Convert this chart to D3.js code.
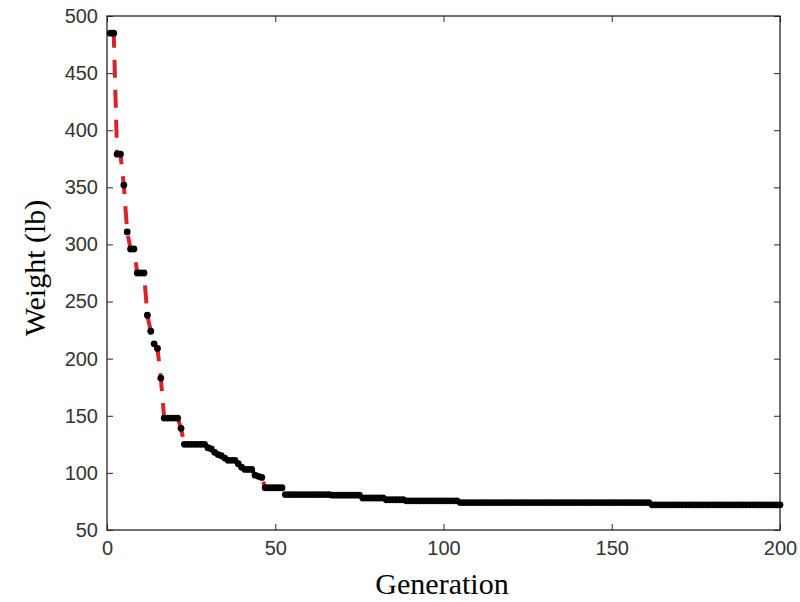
<!doctype html>
<html>
<head>
<meta charset="utf-8">
<script src="https://d3js.org/d3.v7.min.js"></script>
<style>
  body { margin: 0; background: #fff; }
  .tick text { font-family: "Liberation Sans", Arial, sans-serif; font-size: 20px; fill: #333; }
  .tick line { stroke: #262626; }
  .domain { stroke: none; }
  .title { font-family: "Liberation Serif", "Times New Roman", serif; font-size: 30px; fill: #000; }
</style>
</head>
<body>
<svg width="800" height="602"></svg>
<script>
// best weight per generation (lb)
var weights = [
  485, 485, 379, 379, 352, 311, 296, 296, 275, 275,
  275, 238, 224, 213, 209, 183, 148, 148, 148, 148,
  148, 139, 125, 125, 125, 125, 125, 125, 125, 122,
  121, 118, 116, 115, 113, 111, 111, 111, 108, 105,
  103, 103, 103, 98, 97, 96, 87, 87, 87, 87,
  87, 87, 81, 81, 81, 81, 81, 81, 81, 81,
  81, 81, 81, 81, 81, 81, 80.5, 80.5, 80.5, 80.5,
  80.5, 80.5, 80.5, 80.5, 80.5, 78, 78, 78, 78, 78,
  78, 78, 76.5, 76.5, 76.5, 76.5, 76.5, 76.5, 75.5, 75.5,
  75.5, 75.5, 75.5, 75.5, 75.5, 75.5, 75.5, 75.5, 75.5, 75.5,
  75.5, 75.5, 75.5, 75.5, 74, 74, 74, 74, 74, 74,
  74, 74, 74, 74, 74, 74, 74, 74, 74, 74,
  74, 74, 74, 74, 74, 74, 74, 74, 74, 74,
  74, 74, 74, 74, 74, 74, 74, 74, 74, 74,
  74, 74, 74, 74, 74, 74, 74, 74, 74, 74,
  74, 74, 74, 74, 74, 74, 74, 74, 74, 74,
  74, 72, 72, 72, 72, 72, 72, 72, 72, 72,
  72, 72, 72, 72, 72, 72, 72, 72, 72, 72,
  72, 72, 72, 72, 72, 72, 72, 72, 72, 72,
  72, 72, 72, 72, 72, 72, 72, 72, 72, 72
];
var xTicks = [0, 50, 100, 150, 200];
var yTicks = [50, 100, 150, 200, 250, 300, 350, 400, 450, 500];

var data = weights.map(function(w, i) { return {gen: i + 1, w: w}; });

var margin = {left: 107, top: 16, right: 20, bottom: 72};
var W = 800 - margin.left - margin.right;
var H = 602 - margin.top - margin.bottom;

var svg = d3.select('svg');
var g = svg.append('g').attr('transform', 'translate(' + margin.left + ',' + margin.top + ')');

var x = d3.scaleLinear().domain([0, 200]).range([0, W]);
var y = d3.scaleLinear().domain([50, 500]).range([H, 0]);

// axes, ticks pointing inward like matlab
g.append('g').attr('transform', 'translate(0,' + H + ')')
  .call(d3.axisBottom(x).tickValues(xTicks).tickSize(-6).tickPadding(11));
g.append('g')
  .call(d3.axisLeft(y).tickValues(yTicks).tickSize(-6).tickPadding(9));
g.append('g')
  .call(d3.axisTop(x).tickValues(xTicks).tickSize(-6).tickFormat(''));
g.append('g').attr('transform', 'translate(' + W + ',0)')
  .call(d3.axisRight(y).tickValues(yTicks).tickSize(-6).tickFormat(''));

g.append('rect')
  .attr('width', W).attr('height', H)
  .attr('fill', 'none').attr('stroke', '#262626').attr('stroke-width', 1.3);

// dashed red line
var line = d3.line().x(function(d) { return x(d.gen); }).y(function(d) { return y(d.w); });
g.append('path').datum(data)
  .attr('d', line)
  .attr('fill', 'none')
  .attr('stroke', '#d8232a')
  .attr('stroke-width', 4)
  .attr('stroke-dasharray', '18,12');

// black markers
g.append('g').selectAll('circle')
  .data(data)
  .enter()
  .append('circle')
    .attr('cx', function(d) { return x(d.gen); })
    .attr('cy', function(d) { return y(d.w); })
    .attr('r', 3.4)
    .attr('fill', '#000');

// axis titles
svg.append('text').attr('class', 'title')
  .attr('x', 442).attr('y', 594)
  .attr('text-anchor', 'middle').text('Generation');
svg.append('text').attr('class', 'title')
  .attr('transform', 'translate(45,268) rotate(-90)')
  .attr('text-anchor', 'middle').text('Weight (lb)');
</script>
</body>
</html>
